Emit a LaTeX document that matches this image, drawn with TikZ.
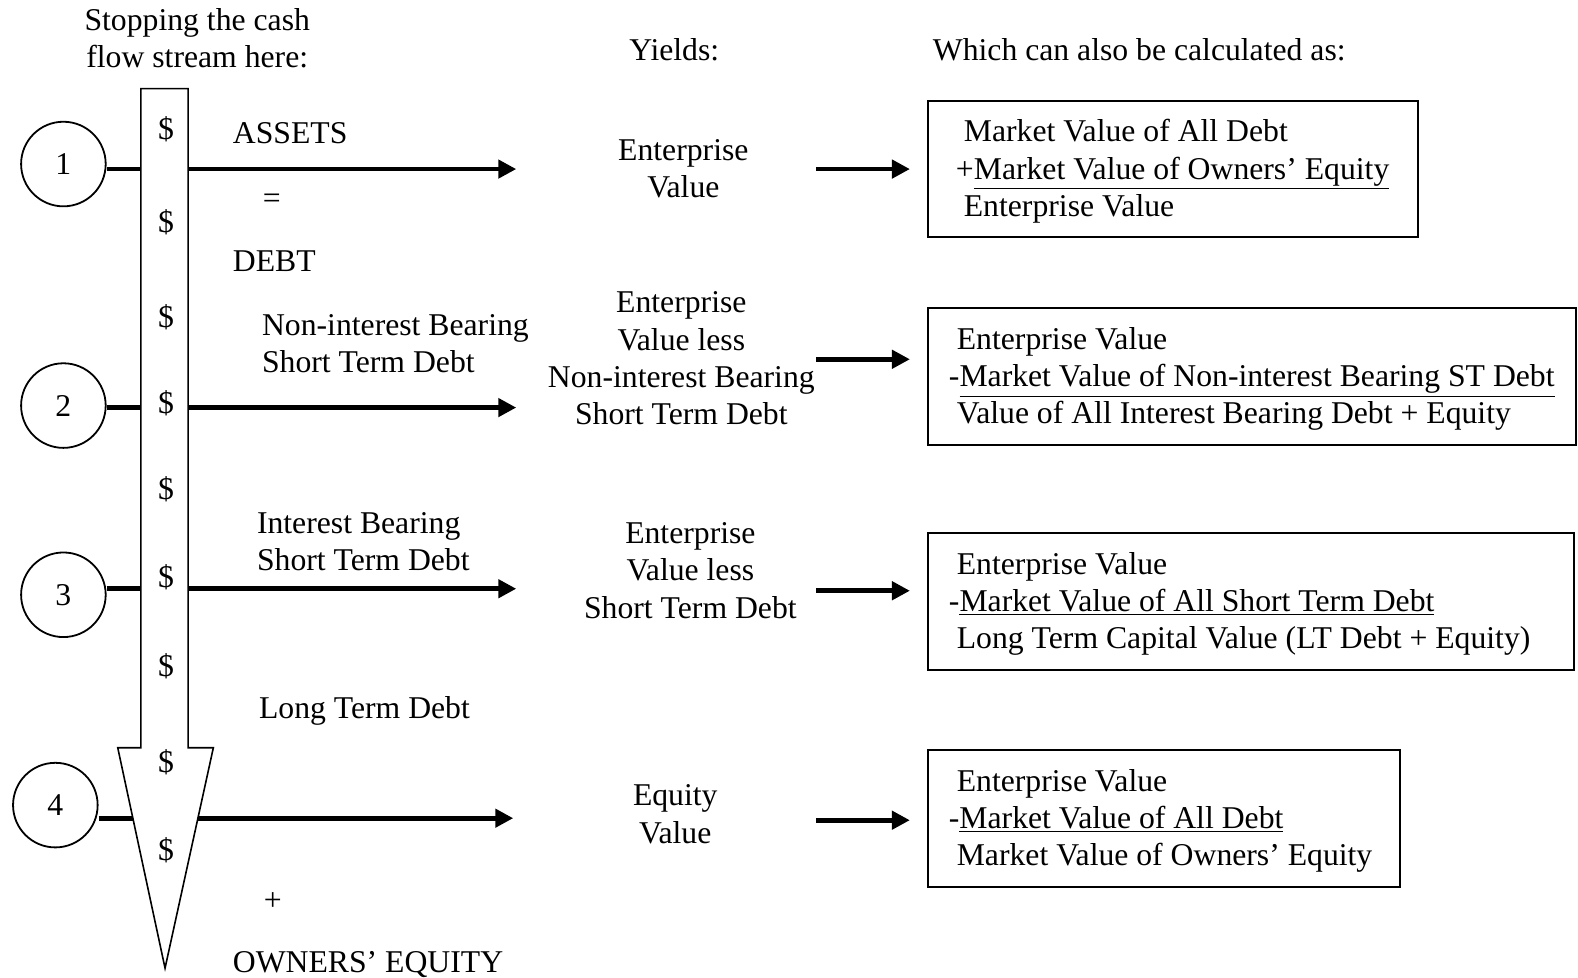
\documentclass[tikz,border=0pt]{standalone}
\usepackage{fontspec}
\setmainfont{Liberation Serif}
\usetikzlibrary{arrows.meta}

\newcommand\boxstrut{\rule{0pt}{0.84em}}

\begin{document}
\begin{tikzpicture}[
      x=0.50319pt, y=-0.50319pt,
      every node/.style={font=\fontsize{15.85}{18.6}\selectfont, inner sep=0pt},
      stage/.style={circle, draw, fill=white, line width=0.9pt, minimum size=42.3pt},
      flow/.style={line width=2.4pt, -{Triangle[length=9pt,width=9pt]}},
      calcbox/.style={draw, line width=1pt, align=flush left, minimum height=68.4pt, inner xsep=10.5pt},
      lefttext/.style={anchor=west, align=left},
      midtext/.style={align=center}
      ]

    \useasboundingbox (0,0) rectangle (1568,971);

    % headings
    \node[midtext] (hstop) at (196,38) {Stopping the cash\\flow stream here:};
    \node (hyield) at (670,49) {Yields:};
    \node (hcalc) at (1132,49) {Which can also be calculated as:};

    % where the stream is cut
    \coordinate (r1) at (513,168);
    \coordinate (r2) at (513,405);
    \coordinate (r3) at (513,585);
    \coordinate (r4) at (510,813);
    \node[stage] (c1) at (63,163) {1};
    \node[stage] (c2) at (63,403) {2};
    \node[stage] (c3) at (63,591) {3};
    \node[stage] (c4) at (55,800) {4};
    \draw[flow] (c1.east |- r1) -- (r1);
    \draw[flow] (c2.east |- r2) -- (r2);
    \draw[flow] (c3.east |- r3) -- (r3);
    \draw[flow] (c4.east |- r4) -- (r4);

    % the cash flow stream
    \draw[line width=0.8pt, fill=white] (140,88) -- (187,88) -- (187,743) -- (212,743)
      -- (164,962) -- (117,743) -- (140,743) -- cycle;
    \foreach \y [count=\i] in {128,221,315,401,486,574,662,757,845}
      \node (d\i) at (165,\y) {\$};

    % balance sheet
    \node[lefttext] (assets) at (231,132) {ASSETS};
    \node (eq) at (270,200) {=};
    \node[lefttext] (debt) at (231,260) {DEBT};
    \node[lefttext] (nibstd) at (260,341.5) {Non-interest Bearing\\Short Term Debt};
    \node[lefttext] (ibstd) at (255,538) {Interest Bearing\\Short Term Debt};
    \node[lefttext] (ltd) at (257,706) {Long Term Debt};
    \node (plus) at (271,896) {+};
    \node[lefttext] (equity) at (231,958) {OWNERS' EQUITY};

    % what each cut yields
    \node[midtext] (m1) at (679,167.5) {Enterprise\\Value};
    \node[midtext] (m2) at (677,356) {Enterprise\\Value less\\Non-interest Bearing\\Short Term Debt};
    \node[midtext] (m3) at (686,567) {Enterprise\\Value less\\Short Term Debt};
    \node[midtext] (m4) at (671,809) {Equity\\Value};

    % calculations
    \node[calcbox, inner xsep=14pt, text width=217pt] (b1) at (1165.5,168)
      {\boxstrut\hspace*{0.25em}Market Value of All Debt\\\mbox{+\underline{Market Value of Owners' Equity}}\\\hspace*{0.25em}Enterprise Value};
    \node[calcbox, text width=303pt] (b2) at (1244,374.5)
      {\boxstrut\hspace*{0.25em}Enterprise Value\\\mbox{-\underline{Market Value of Non-interest Bearing ST Debt}}\\\mbox{\hspace*{0.25em}Value of All Interest Bearing Debt + Equity}};
    \node[calcbox, text width=302pt] (b3) at (1243,597.5)
      {\boxstrut\hspace*{0.25em}Enterprise Value\\\mbox{-\underline{Market Value of All Short Term Debt}}\\\mbox{\hspace*{0.25em}Long Term Capital Value (LT Debt + Equity)}};
    \node[calcbox, text width=215pt] (b4) at (1156.5,813.5)
      {\boxstrut\hspace*{0.25em}Enterprise Value\\\mbox{-\underline{Market Value of All Debt}}\\\mbox{\hspace*{0.25em}Market Value of Owners' Equity}};

    \coordinate (s1) at (811,168);
    \coordinate (s2) at (811,357);
    \coordinate (s3) at (811,587);
    \coordinate (s4) at (811,815);
    \draw[flow, shorten >=8.5pt] (s1) -- (s1 -| b1.west);
    \draw[flow, shorten >=8.5pt] (s2) -- (s2 -| b2.west);
    \draw[flow, shorten >=8.5pt] (s3) -- (s3 -| b3.west);
    \draw[flow, shorten >=8.5pt] (s4) -- (s4 -| b4.west);

\end{tikzpicture}
\end{document}
